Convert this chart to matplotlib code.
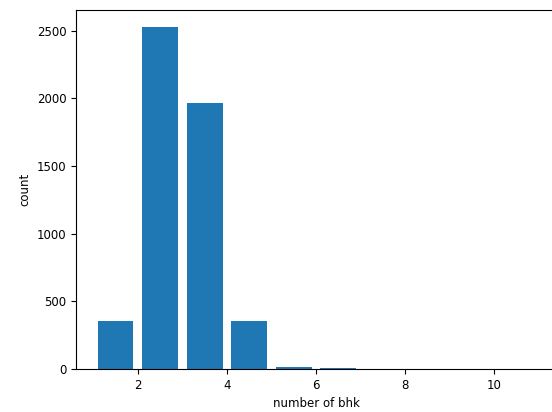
import numpy as np
import matplotlib
matplotlib.use("Agg")
import matplotlib.pyplot as plt

# bhk values and how many listings have each
bhk = [1, 2, 3, 4, 5, 6, 7, 8, 9, 10]
counts = [358, 2527, 1965, 356, 16, 10, 3, 2, 1, 2]
bin_edges = np.arange(1, 12)

plt.rcParams['font.size'] = 8.5

fig = plt.figure(figsize=(5.52, 4.12), dpi=100)
ax = fig.add_axes([0.1377, 0.1044, 0.8696, 0.8714])

ax.hist(bhk, bins=bin_edges, weights=counts, rwidth=0.8)
ax.set_xlabel("number of bhk")
ax.set_ylabel("count")

fig.savefig("out.png", dpi=100)
